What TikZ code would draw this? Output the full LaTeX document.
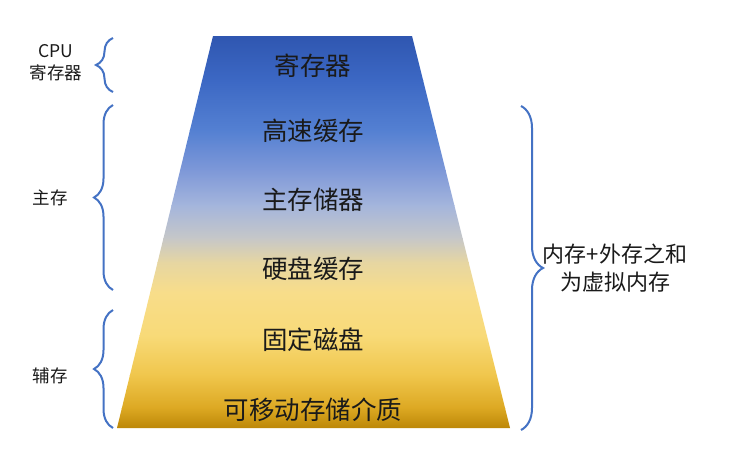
\documentclass[tikz,border=0pt]{standalone}
\usepackage{fontspec}
\setmainfont{Noto Sans CJK SC}
\usetikzlibrary{decorations.pathreplacing}
\definecolor{g0}{HTML}{2F56B0}
\definecolor{g1}{HTML}{3C68C4}
\definecolor{g2}{HTML}{5480D2}
\definecolor{g3}{HTML}{7E98D8}
\definecolor{g4}{HTML}{A4B5DC}
\definecolor{g5}{HTML}{C6C7C8}
\definecolor{g6}{HTML}{E6D6A2}
\definecolor{g7}{HTML}{F8DD8A}
\definecolor{g8}{HTML}{F8DA78}
\definecolor{g9}{HTML}{F0C64C}
\definecolor{g10}{HTML}{DCA822}
\definecolor{g11}{HTML}{BB8606}
\definecolor{bracecol}{HTML}{4472C4}
\definecolor{txt}{HTML}{1A1A1A}
\begin{document}
\begin{tikzpicture}[x=1pt,y=-1pt,
  bracestyle/.style={draw=bracecol,line width=2pt,decorate,decoration={brace,amplitude=#1}},
  layer/.style={font=\fontsize{25.5}{28}\selectfont,text=txt,inner sep=0pt},
  sidelabel/.style={font=\fontsize{17.5}{20}\selectfont,text=txt,inner sep=0pt},
  notelabel/.style={font=\fontsize{22}{26}\selectfont,text=txt,inner sep=0pt}]
\useasboundingbox (0,0) rectangle (731,456);
\fill[white] (0,0) rectangle (731,456);
% trapezoid
\coordinate (tl) at (213,36);
\coordinate (tr) at (412,36);
\coordinate (br) at (510,428);
\coordinate (bl) at (117,428);
\begin{scope}
\clip (tl) -- (tr) -- (br) -- (bl) -- cycle;
\shade[top color=g0,bottom color=g1] (100,35) rectangle (530,80.5);
\shade[top color=g1,bottom color=g2] (100,80) rectangle (530,130.5);
\shade[top color=g2,bottom color=g3] (100,130) rectangle (530,170.5);
\shade[top color=g3,bottom color=g4] (100,170) rectangle (530,205.5);
\shade[top color=g4,bottom color=g5] (100,205) rectangle (530,238.5);
\shade[top color=g5,bottom color=g6] (100,238) rectangle (530,262.5);
\shade[top color=g6,bottom color=g7] (100,262) rectangle (530,292.5);
\shade[top color=g7,bottom color=g8] (100,292) rectangle (530,335.5);
\shade[top color=g8,bottom color=g9] (100,335) rectangle (530,375.5);
\shade[top color=g9,bottom color=g10] (100,375) rectangle (530,408.5);
\shade[top color=g10,bottom color=g11] (100,408) rectangle (530,429);
\end{scope}
% layer labels
\node[layer] (reg) at (313,66) {寄存器};
\node[layer] (cache) at (313,131) {高速缓存};
\node[layer] (mainmem) at (313,200) {主存储器};
\node[layer] (diskcache) at (313,269) {硬盘缓存};
\node[layer] (disk) at (313,340) {固定磁盘};
\node[layer] (removable) at (313,410) {可移动存储介质};
% left braces
\draw[bracestyle=17pt] (113,92) -- (113,38);
\draw[bracestyle=19pt] (113,290) -- (113,105);
\draw[bracestyle=19pt] (113,428) -- (113,310);
% right brace
\draw[bracestyle=22pt] (521,106) -- (521,430);
% side labels
\node[sidelabel] (cpu) at (56,51) {CPU};
\node[sidelabel] (cpureg) at (56,73) {寄存器};
\node[sidelabel] (zhucun) at (50,198) {主存};
\node[sidelabel] (fucun) at (50,376) {辅存};
% note
\node[notelabel] (note1) at (615,254) {内存+外存之和};
\node[notelabel] (note2) at (615,282) {为虚拟内存};
\end{tikzpicture}
\end{document}
